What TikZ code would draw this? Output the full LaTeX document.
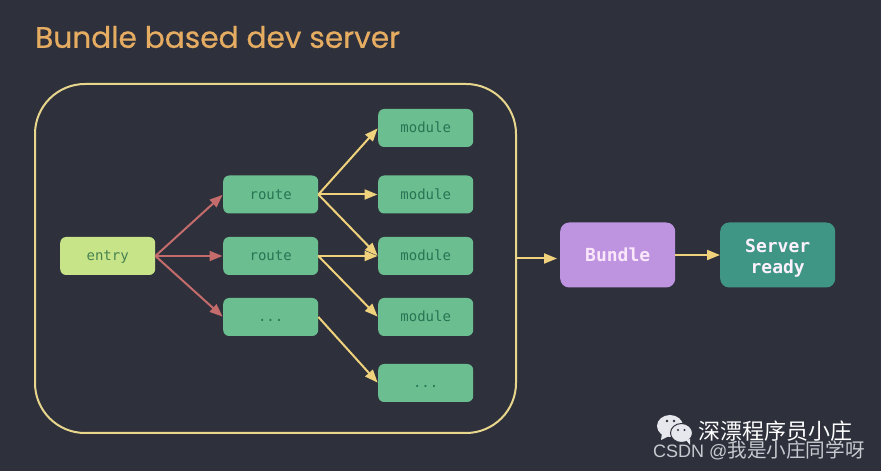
\documentclass[tikz,border=0pt]{standalone}
\usepackage{fontspec}
\setmainfont{Liberation Sans}
\setmonofont{DejaVu Sans Mono}
\newfontfamily\titlefont[FakeBold=0.6]{Poppins}
\newfontfamily\cjk{Noto Sans CJK SC}
\usetikzlibrary{arrows.meta}
\definecolor{mybackground}{RGB}{46,49,60}
\definecolor{mytitle}{RGB}{229,172,98}
\definecolor{myframe}{RGB}{232,214,140}
\definecolor{mygreen}{RGB}{107,190,143}
\definecolor{mygreentext}{RGB}{40,116,84}
\definecolor{mylime}{RGB}{200,228,136}
\definecolor{mylimetext}{RGB}{70,130,80}
\definecolor{myred}{RGB}{196,108,108}
\definecolor{myyellow}{RGB}{240,210,125}
\definecolor{mypurple}{RGB}{190,148,224}
\definecolor{mypurpletext}{RGB}{250,232,250}
\definecolor{myteal}{RGB}{64,150,132}
\definecolor{myhandle}{RGB}{230,232,238}
\definecolor{mygraytext}{RGB}{200,202,208}
\newcommand{\widthtask}{95pt}
\newcommand{\widthbig}{115pt}
\tikzset{
    common/.style={anchor=west, rectangle, rounded corners=6pt, text=mygreentext},
    task/.style={common, fill=mygreen, minimum width=\widthtask, minimum height=38pt,
        font=\ttfamily\fontsize{14}{16}\selectfont, text height=10.5pt, text depth=1pt},
    entrybox/.style={task, fill=mylime, text=mylimetext},
    big/.style={common, minimum width=\widthbig, minimum height=65pt, rounded corners=9pt,
        align=center, font=\ttfamily\bfseries\fontsize{18}{21}\selectfont},
    link/.style={-{Triangle[length=13pt,width=10pt]}, line width=2pt, shorten >=0.5pt},
    redlink/.style={link, myred},
    yellowlink/.style={link, myyellow}
}

\begin{document}
\begin{tikzpicture}[x=1pt, y=1pt]
    \useasboundingbox[fill=mybackground] (0,0) rectangle (881,471);

    \node[anchor=west, inner sep=0pt, text=mytitle, font=\titlefont\fontsize{29.6}{32}\selectfont] (title) at (35,434) {Bundle based dev server};
    \node[draw=myframe, line width=2pt, rounded corners=50pt, minimum width=481pt, minimum height=349pt] (frame) at (275.5,212.5) {};

    \path (60,215) node[entrybox] (entry) {entry}
        to ++(0:163pt) node[task] (route-b) {route}
        to ++(0:155pt) node[task] (module-c) {module}
        to ++(182pt,1pt) node[big, fill=mypurple, text=mypurpletext] (bundle) {Bundle}
        to ++(0:160pt) node[big, fill=myteal, text=mypurpletext!60!white] (ready) {\rule{0pt}{19pt}Server\\ready};

    \path (223,276.5) node[task] (route-a) {route}
        to ++(0:155pt) node[task] (module-b) {module}
        to ++(90:66.5pt) node[task] (module-a) {module};

    \path (223,154) node[task] (route-c) {...}
        to ++(0:155pt) node[task] (module-d) {module}
        to ++(270:66pt) node[task] (module-e) {...};

    \draw[redlink] (entry.east) -- (route-a.west);
    \draw[redlink] (entry.east) -- (route-b.west);
    \draw[redlink] (entry.east) -- (route-c.west);

    \draw[yellowlink] (route-a.east) -- (module-a.west);
    \draw[yellowlink] (route-a.east) -- (module-b.west);
    \draw[yellowlink] (route-a.east) -- (module-c.west);
    \draw[yellowlink] (route-b.east) -- (module-c.west);
    \draw[yellowlink] (route-b.east) -- (module-d.west);
    \draw[yellowlink] (route-c.east) -- (module-e.west);

    \draw[yellowlink, shorten >=3pt] (frame.east) -- (frame.east -| bundle.west);
    \draw[yellowlink, shorten >=0pt] (bundle.east) -- (ready.west);

    \fill[myhandle] (670,45) ellipse[x radius=13, y radius=11];
    \fill[myhandle] (662,38) -- (661,31) -- (669,35) -- cycle;
    \fill[myhandle, draw=mybackground, line width=1pt] (681.5,38) ellipse[x radius=11, y radius=9.5];
    \fill[myhandle] (686,31) -- (690,26) -- (690,32) -- cycle;
    \foreach \eyex/\eyey/\eyer in {667/50/1.4, 674/50/1.4, 678/41/1.2, 684.5/41/1.2}
        \fill[mybackground] (\eyex,\eyey) circle[radius=\eyer];

    \node[anchor=west, inner sep=0pt, text=white, font=\cjk\fontsize{22}{24}\selectfont] (handle) at (698,40) {深漂程序员小庄};
    \node[anchor=west, inner sep=0pt, text=mygraytext, font=\fontsize{18}{20}\selectfont] (source) at (653,21) {CSDN @{\cjk\fontsize{19.6}{20}\selectfont 我是小庄同学呀}};
\end{tikzpicture}
\end{document}
